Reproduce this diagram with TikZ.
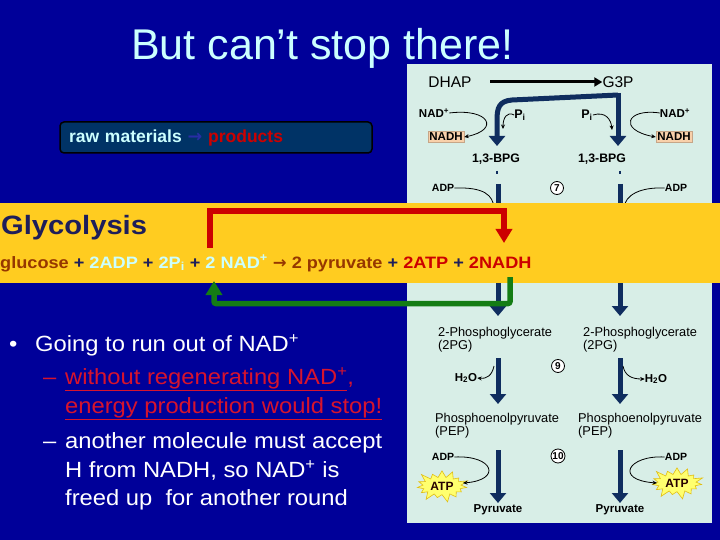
\documentclass[tikz,border=0pt]{standalone}
\usepackage{fontspec}
\setmainfont{Liberation Sans}
\newfontfamily\wfont[FakeStretch=1.1]{Liberation Sans}
\newfontfamily\bfont[FakeStretch=1.08]{Liberation Sans}
\newfontfamily\arrowfont{DejaVu Sans}
\usetikzlibrary{arrows.meta,shapes.symbols}
\definecolor{bgblue}{RGB}{0,0,153}
\definecolor{panelc}{RGB}{216,238,231}
\definecolor{navyarr}{RGB}{15,45,95}
\definecolor{bandyellow}{RGB}{255,204,32}
\definecolor{rawbox}{RGB}{0,51,102}
\definecolor{lcyan}{RGB}{204,255,255}
\definecolor{redc}{RGB}{204,0,0}
\definecolor{bulletred}{RGB}{215,20,45}
\definecolor{greenc}{RGB}{20,125,20}
\definecolor{brownc}{RGB}{150,55,0}
\definecolor{navytext}{RGB}{30,30,90}
\definecolor{peach}{RGB}{248,208,170}
\definecolor{staryellow}{RGB}{255,255,110}
\definecolor{staredge}{RGB}{225,190,20}
\definecolor{arrowblue}{RGB}{40,45,165}
\tikzset{
  ptxt/.style={font=\fontsize{12.8}{14}\selectfont, inner sep=0pt, anchor=base west, text=black},
  plab/.style={font=\bfseries\fontsize{11.5}{13}\selectfont, inner sep=0pt, text=black},
  bigarrow/.style={draw=navyarr, line width=5pt, -{Triangle[width=16pt,length=10pt]}},
  thinarrow/.style={draw=black, line width=0.8pt, -{Stealth[length=4.5pt,width=4pt]}},
  thinline/.style={draw=black, line width=0.8pt},
  stepnum/.style={circle, draw=black, fill=white, line width=0.8pt, inner sep=0pt, minimum size=13pt, font=\bfseries\fontsize{10}{10}\selectfont},
  nadhbox/.style={fill=peach, draw=peach!80!black, line width=0.3pt, inner xsep=1.5pt, inner ysep=1.5pt, font=\bfseries\fontsize{11.5}{13}\selectfont},
  atpstar/.style={starburst, starburst points=15, starburst point height=9pt, fill=staryellow, draw=staredge, line width=0.6pt, inner sep=2pt, font=\bfseries\fontsize{12}{13}\selectfont, text=black!85!red},
  btxt/.style={text=white, font=\bfont\fontsize{22}{26}\selectfont, anchor=base west, inner sep=0pt},
  rtxt/.style={text=bulletred, font=\bfont\fontsize{22}{26}\selectfont, anchor=base west, inner sep=0pt},
  redarr/.style={draw=redc, line width=5.5pt, -{Triangle[width=16pt,length=14pt]}},
  greenarr/.style={draw=greenc, line width=5.5pt, -{Triangle[width=16pt,length=14pt]}},
}
\begin{document}
\begin{tikzpicture}[x=1pt,y=-1pt]
% background
\fill[bgblue] (0,0) rectangle (720,540);
\useasboundingbox (0,0) rectangle (720,540);
% panel
\fill[panelc] (407,64) rectangle (712,523);

% title
\node[anchor=base west, inner sep=0pt, text=lcyan, font=\fontsize{43}{48}\selectfont] (title) at (131,60) {But can’t stop there!};

% raw materials box
\node[draw=black, line width=1.5pt, rounded corners=4pt, fill=rawbox, minimum width=312pt, minimum height=31pt,
      text width=294pt, align=left, inner xsep=9pt, font=\bfseries\fontsize{17.5}{20}\selectfont] (raw) at (216,137.5)
  {\textcolor{lcyan}{raw materials} \textcolor{arrowblue}{\arrowfont\bfseries →} \textcolor{redc}{products}};

% ---- panel top ----
\node[inner sep=0pt, font=\fontsize{15.5}{17}\selectfont] (dhap) at (450,82) {DHAP};
\node[inner sep=0pt, font=\fontsize{15.5}{17}\selectfont] (g3p) at (618,82) {G3P};
\coordinate (dhs) at (490,82);
\draw[line width=3pt, -{Triangle[width=9pt,length=8pt]}] (dhs) -- (g3p.west);

\coordinate (g3pj) at (618,93);
\coordinate (bpgltip) at (497,146);
\coordinate (bpgrtip) at (618,146);
\draw[bigarrow] (g3pj) -- (bpgrtip);
\draw[bigarrow] (618,95) -- (512,100) .. controls (499,101) and (497,108) .. (497,120) -- (bpgltip);

\node[plab] (nadl) at (434,113) {NAD\textsuperscript{+}};
\node[nadhbox] (nadhl) at (446,137) {NADH};
\node[plab, font=\bfseries\fontsize{12.5}{13}\selectfont] (pil) at (520,115) {P\textsubscript{i}};
\node[plab, font=\bfseries\fontsize{12.5}{13}\selectfont] (pir) at (587,115) {P\textsubscript{i}};
\node[plab] (nadr) at (675,113) {NAD\textsuperscript{+}};
\node[nadhbox] (nadhr) at (674,137) {NADH};

\draw[thinarrow] (nadl.east) .. controls (490,108) and (500,130) .. (nadhl.east);
\draw[thinarrow] (nadr.west) .. controls (626,108) and (618,130) .. (nadhr.west);
\draw[thinarrow] (pil.west) .. controls (507,111) and (503,118) .. (503,129);
\draw[thinarrow] (pir.east) .. controls (606,111) and (611,120) .. (612,130);

\node[plab, font=\bfseries\fontsize{12.3}{13}\selectfont] (bpgl) at (496,159) {1,3-BPG};
\node[plab, font=\bfseries\fontsize{12.3}{13}\selectfont] (bpgr) at (602,159) {1,3-BPG};

% bars continuing under the band
\coordinate (barlt) at (498,184);
\coordinate (barrt) at (620,184);
\coordinate (pgltip) at (498,316);
\coordinate (pgrtip) at (620,316);
\draw[navyarr, line width=2pt] (497,171) -- (497,174);
\draw[navyarr, line width=2pt] (620,171) -- (620,174);
\draw[bigarrow] (barlt) -- (pgltip);
\draw[bigarrow] (barrt) -- (pgrtip);

\node[plab, font=\bfseries\fontsize{10.5}{12}\selectfont] (adpl) at (443,188) {ADP};
\node[plab, font=\bfseries\fontsize{10.5}{12}\selectfont] (adpr) at (676,188) {ADP};
\coordinate (adplend) at (494,208);
\coordinate (adprend) at (624,208);
\draw[thinline] (adpl.east) .. controls (484,187) and (493,195) .. (adplend);
\draw[thinline] (adpr.west) .. controls (640,187) and (625,195) .. (adprend);
\node[stepnum] (s7) at (557,188) {7};

% ---- yellow band ----
\fill[bandyellow] (0,203) rectangle (720,283);
\node[anchor=base west, inner sep=0pt, text=navytext, font=\wfont\bfseries\fontsize{26.5}{30}\selectfont] (glyc) at (1,234) {Glycolysis};
\node[anchor=base west, inner sep=0pt, text=navytext, font=\wfont\bfseries\fontsize{16.5}{18}\selectfont] (eqn) at (0,268)
 {\textcolor{brownc}{glucose} + \textcolor{lcyan}{2ADP} + \textcolor{lcyan}{2P\textsubscript{i}} + \textcolor{lcyan}{2 NAD\textsuperscript{+}} \textcolor{brownc}{{\arrowfont\bfseries →} 2 pyruvate} + \textcolor{redc}{2ATP} + \textcolor{redc}{2NADH}};

% red and green arrows
\coordinate (redstart) at (210,248);
\coordinate (redtopl) at (210,211);
\coordinate (redtopr) at (504,211);
\coordinate (redend) at (504,243);
\draw[redarr] (redstart) -- (redtopl) -- (redtopr) -- (redend);
\coordinate (grstart) at (510,277);
\coordinate (grbotr) at (510,303.5);
\coordinate (grbotl) at (214,303.5);
\coordinate (grend) at (214,281);
\draw[greenarr, rounded corners=2pt] (grstart) -- (grbotr) -- (grbotl) -- (grend);

% ---- panel bottom ----
\node[ptxt] (pgl1) at (438,336) {2-Phosphoglycerate};
\node[ptxt] (pgl2) at (438,349) {(2PG)};
\node[ptxt] (pgr1) at (583,336) {2-Phosphoglycerate};
\node[ptxt] (pgr2) at (583,349) {(2PG)};

\coordinate (pepls) at (498,358);
\coordinate (peprs) at (620,358);
\coordinate (pepltip) at (498,404);
\coordinate (peprtip) at (620,404);
\draw[bigarrow] (pepls) -- (pepltip);
\draw[bigarrow] (peprs) -- (peprtip);

\node[plab, font=\bfseries\fontsize{11.5}{13}\selectfont] (h2ol) at (466,378) {H\textsubscript{2}O};
\node[plab, font=\bfseries\fontsize{11.5}{13}\selectfont] (h2or) at (656,379) {H\textsubscript{2}O};
\coordinate (h2ols) at (494,366);
\coordinate (h2ors) at (623,366);
\draw[thinarrow] (h2ols) .. controls (492,376) and (486,379) .. (h2ol.east);
\draw[thinarrow] (h2ors) .. controls (625,376) and (632,379) .. (h2or.west);
\node[stepnum] (s9) at (558,366) {9};

\node[ptxt] (pepl1) at (435,422) {Phosphoenolpyruvate};
\node[ptxt] (pepl2) at (435,435) {(PEP)};
\node[ptxt] (pepr1) at (578,422) {Phosphoenolpyruvate};
\node[ptxt] (pepr2) at (578,435) {(PEP)};

\coordinate (pyls) at (498,450);
\coordinate (pyrs) at (620,450);
\coordinate (pyltip) at (498,503);
\coordinate (pyrtip) at (620,503);
\draw[bigarrow] (pyls) -- (pyltip);
\draw[bigarrow] (pyrs) -- (pyrtip);

\node[plab, font=\bfseries\fontsize{11.5}{13}\selectfont] (pyrl) at (498,510) {Pyruvate};
\node[plab, font=\bfseries\fontsize{11.5}{13}\selectfont] (pyrr) at (620,510) {Pyruvate};

\node[atpstar] (atpl) at (442,486) {ATP};
\node[atpstar] (atpr) at (677,483) {ATP};
\node[plab, font=\bfseries\fontsize{10.5}{12}\selectfont] (adpl2) at (443,457) {ADP};
\node[plab, font=\bfseries\fontsize{10.5}{12}\selectfont] (adpr2) at (676,457) {ADP};
\coordinate (atpltip) at (463,483);
\coordinate (atprtip) at (657,483);
\draw[thinarrow] (adpl2.east) .. controls (494,455) and (502,480) .. (atpltip);
\draw[thinarrow] (adpr2.west) .. controls (628,455) and (614,480) .. (atprtip);
\node[stepnum, minimum size=14pt] (s10) at (558,456) {10};

% ---- bullets ----
\node[btxt] (dot) at (9,351) {•};
\node[btxt] (b1) at (35,351) {Going to run out of NAD\textsuperscript{+}};
\node[rtxt] (d2) at (43,384) {–};
\node[rtxt] (b2) at (65,384) {\underline{without regenerating NAD\textsuperscript{+}},};
\node[rtxt] (b3) at (65,413) {\underline{energy production would stop!}};
\node[btxt] (d4) at (43,448) {–};
\node[btxt] (b4) at (65,448) {another molecule must accept};
\node[btxt] (b5) at (65,477) {H from NADH, so NAD\textsuperscript{+} is};
\node[btxt] (b6) at (65,505) {freed up~ for another round};
\end{tikzpicture}
\end{document}
